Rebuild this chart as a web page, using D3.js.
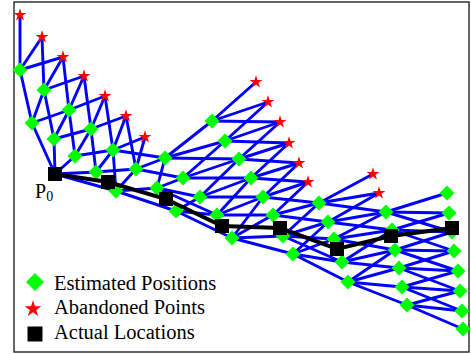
<!DOCTYPE html>
<html>
<head>
<meta charset="utf-8">
<script src="https://cdn.jsdelivr.net/npm/d3@7"></script>
<style>
  html, body { margin: 0; padding: 0; background: #fff; }
  svg { display: block; }
</style>
</head>
<body>
<svg id="chart" width="471" height="354"></svg>
<script>
// actual locations P0..P7
const actualX = [41, 94, 152, 208, 266, 323, 377, 438];
const actualY = [178, 170, 153, 126, 124, 103, 116, 124];

// candidate points for each step, [x, y]
const step0 = [[41, 178]];
const step1 = [[18, 229], [40, 213], [61, 196], [82, 180], [102, 161]];
const step2 = [[6, 282], [30, 262], [55, 242], [77, 223], [99, 202], [122, 183], [143, 164], [162, 141]];
const step3 = [[6, 337], [28, 315], [49, 295], [70, 276], [91, 256], [112, 236], [131, 215],
  [151, 194], [169, 174], [186, 155], [203, 137], [218, 114]];
const step4 = [[198, 231], [211, 211], [225, 193], [237, 174], [249, 155], [259, 137], [269, 116], [279, 98]];
const step5 = [[242, 270], [254, 250], [266, 230], [275, 209], [285, 189], [294, 170],
  [305, 149], [314, 130], [320, 113], [328, 90], [334, 70]];
const step6 = [[359, 178], [365, 159], [372, 140], [378, 122], [381, 102], [385, 84], [388, 65], [393, 47]];
const step7 = [[433, 159], [435, 139], [438, 120], [440, 101], [444, 81], [446, 61], [448, 41], [449, 23]];

// how many leading candidates of each step were abandoned
const abandoned = [0, 0, 0, 7, 0, 6, 2, 0];

// links from step k to step k+1: [from index, [to indices]]
const links01 = [[0, [0, 1, 2, 3, 4]]];
const links12 = [[0, [0, 1, 2]], [1, [1, 2, 3]], [2, [2, 3, 4]], [3, [3, 4, 5]], [4, [4, 5, 6, 7]]];
const links23 = [[0, [0, 1, 2]], [1, [1, 2, 3]], [2, [2, 3, 4]], [3, [3, 4, 5]], [4, [4, 5, 6, 7]],
  [5, [5, 6, 7, 8]], [6, [7, 8, 9, 10]], [7, [9, 10, 11]]];
const links34 = [[7, [0, 1, 2]], [8, [1, 2, 3]], [9, [2, 3, 4]], [10, [3, 4, 5]], [11, [4, 5, 6, 7]]];
const links45 = [[0, [0, 1, 2]], [1, [1, 2, 3]], [2, [2, 3, 4]], [3, [3, 4, 5]], [4, [4, 5, 6]],
  [5, [5, 6, 7]], [6, [6, 7, 8, 9]], [7, [7, 8, 9, 10]]];
const links56 = [[6, [0, 1, 2]], [7, [1, 2, 3]], [8, [2, 3, 4]], [9, [3, 4, 5]], [10, [4, 5, 6, 7]]];
const links67 = [[2, [0, 1, 2]], [3, [1, 2, 3]], [4, [2, 3, 4]], [5, [3, 4, 5]], [6, [4, 5, 6]], [7, [5, 6, 7]]];

const legendLabels = ['Estimated Positions', 'Abandoned Points', 'Actual Locations'];

const steps = [step0, step1, step2, step3, step4, step5, step6, step7];
const links = [links01, links12, links23, links34, links45, links56, links67];

const x = d3.scaleLinear().domain([0, 455]).range([14, 469]);
const y = d3.scaleLinear().domain([0, 350]).range([352, 2]);

const svg = d3.select('#chart');
const font = '"Liberation Serif", "Times New Roman", Times, serif';

// marker paths
function diamondPath(r) {
  return 'M0,' + (-r) + 'L' + r + ',0L0,' + r + 'L' + (-r) + ',0Z';
}
const starSym = (R) => d3.symbol(d3.symbolStar, R * R / 0.8908130915292852)();
const squareSym = (s) => d3.symbol(d3.symbolSquare, s * s)();

// frame
svg.append('rect')
  .attr('x', x(0))
  .attr('y', y(350))
  .attr('width', x(455) - x(0))
  .attr('height', y(0) - y(350))
  .attr('fill', 'none')
  .attr('stroke', '#262626')
  .attr('stroke-width', 1.4);

// blue links between candidate points
const segs = [];
links.forEach((lk, k) => {
  lk.forEach(([from, tos]) => {
    tos.forEach(to => {
      segs.push({a: steps[k][from], b: steps[k + 1][to]});
    });
  });
});

svg.append('g')
  .selectAll('line')
  .data(segs)
  .join('line')
  .attr('x1', d => x(d.a[0]))
  .attr('y1', d => y(d.a[1]))
  .attr('x2', d => x(d.b[0]))
  .attr('y2', d => y(d.b[1]))
  .attr('stroke', '#0000ff')
  .attr('stroke-width', 2.9);

// split candidates into estimated / abandoned
const estimated = [];
const dropped = [];
steps.forEach((pts, k) => {
  if (k === 0) return;
  pts.forEach((p, i) => {
    if (i < abandoned[k]) dropped.push(p);
    else estimated.push(p);
  });
});

svg.append('g')
  .selectAll('path')
  .data(estimated)
  .join('path')
  .attr('d', diamondPath(7.5))
  .attr('transform', d => 'translate(' + x(d[0]) + ',' + y(d[1]) + ')')
  .attr('fill', '#00ff00');

svg.append('g')
  .selectAll('path')
  .data(dropped)
  .join('path')
  .attr('d', starSym(6.8))
  .attr('transform', d => 'translate(' + x(d[0]) + ',' + y(d[1]) + ')')
  .attr('fill', '#ff0000');

// actual track
const track = actualX.map((v, i) => [v, actualY[i]]);
svg.append('path')
  .datum(track)
  .attr('d', d3.line().x(d => x(d[0])).y(d => y(d[1])))
  .attr('fill', 'none')
  .attr('stroke', '#000')
  .attr('stroke-width', 4);

svg.append('g')
  .selectAll('path')
  .data(track)
  .join('path')
  .attr('d', squareSym(14))
  .attr('transform', d => 'translate(' + x(d[0]) + ',' + y(d[1]) + ')')
  .attr('fill', '#000');

// P0 label
const lab = svg.append('text')
  .attr('x', x(actualX[0]) - 20)
  .attr('y', y(actualY[0]) + 24)
  .style('font-family', font)
  .style('font-size', '20px')
  .attr('fill', '#000')
  .text('P');
lab.append('tspan')
  .attr('dy', 3)
  .style('font-size', '14px')
  .text('0');

// legend
const leg = svg.append('g');
const legY = [290, 314, 339];
leg.append('path')
  .attr('d', diamondPath(9))
  .attr('transform', 'translate(35,282)')
  .attr('fill', '#00ff00');
leg.append('path')
  .attr('d', starSym(8.8))
  .attr('transform', 'translate(33,309)')
  .attr('fill', '#ff0000');
leg.append('path')
  .attr('d', squareSym(15))
  .attr('transform', 'translate(35,334)')
  .attr('fill', '#000');
legendLabels.forEach((t, i) => {
  leg.append('text')
    .attr('x', 54)
    .attr('y', legY[i])
    .style('font-family', font)
    .style('font-size', '20.5px')
    .attr('fill', '#000')
    .text(t);
});
</script>
</body>
</html>
